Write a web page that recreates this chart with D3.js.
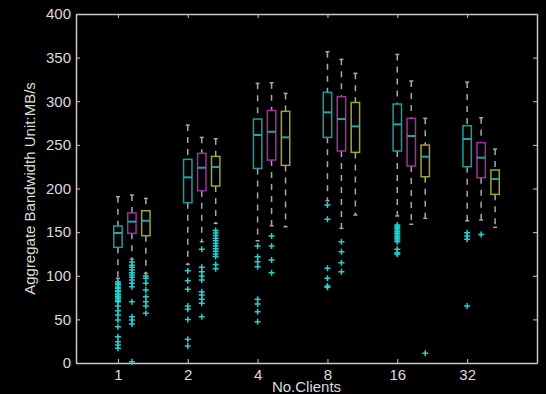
<!DOCTYPE html>
<html>
<head>
<meta charset="utf-8">
<script src="https://cdn.jsdelivr.net/npm/d3@7"></script>
<style>
  html, body { margin: 0; padding: 0; background: #000; }
  svg { display: block; }
  .axis text { fill: #dcdcdc; font-family: "Liberation Sans", Arial, sans-serif; font-size: 15px; }
  .axis path, .axis line { stroke: #c8c8c8; }
</style>
</head>
<body>
<div id="chart"></div>
<script>
// x categories (number of clients) and y ticks
const categories = ["1", "2", "4", "8", "16", "32"];
const yTicks = [0, 50, 100, 150, 200, 250, 300, 350, 400];

// three runs per category: cyan, magenta, yellow
const seriesColors = ["#1e9c9c", "#a42fa4", "#a3a32e"];
const seriesOffsets = [0, 0.2, 0.4];

// box stats, one row per series, one value per category
const whiskerLow = [
  [97, 113, 140, 186, 168.5, 163],
  [119, 139, 157.3, 154.3, 159, 163.9],
  [102.8, 160, 156.2, 169.6, 165.8, 155.5]
];
const q1 = [
  [132.6, 183.7, 223, 258.6, 243, 225],
  [148.6, 197.5, 232.6, 243, 225.8, 212.4],
  [145.9, 202.8, 226.5, 241.4, 213.5, 193.3]
];
const median = [
  [149, 212.8, 261.3, 287.3, 273.5, 256.7],
  [162, 223.8, 265, 279.6, 260.2, 235.3],
  [163, 224.6, 258.6, 271.2, 236.4, 210.8]
];
const q3 = [
  [157, 233.4, 279.6, 310.2, 296.8, 272],
  [172, 240.3, 289.4, 305.2, 280.4, 252.5],
  [174.5, 236.8, 288.4, 298.6, 249.8, 221.2]
];
const whiskerHigh = [
  [190.6, 272.7, 320.5, 356.8, 353.7, 322],
  [192.5, 258.6, 321.2, 348, 323.2, 281.1],
  [188.7, 257, 309, 332, 280.4, 245.2]
];

// outliers per series, per category
const outliers = [
  [
    [93, 91, 89.6, 87, 85.6, 83, 81.7, 79, 77.9, 76, 74.1, 72, 70.2, 65.3, 59.9, 55, 49.3, 41.6, 30.1, 24.4, 20.6, 16.8],
    [105.8, 94.3, 84.4, 65.3, 61.5, 50, 27.1, 19.5],
    [134, 121.8, 116.1, 110.4, 73, 67.6, 58.8, 47.3],
    [181, 164.7, 108.5, 97, 88.2, 86.7],
    [158.1, 156.2, 154.3, 152.4, 150.5, 148.6, 146.7, 144.7, 142.9, 141, 139, 130.3, 126.4, 124.5],
    [149.3, 145.5, 141.7, 65.3]
  ],
  [
    [115.7, 112, 109.6, 106.6, 103.5, 100.8, 98.2, 95.1, 91.3, 87.4, 70.2, 53, 49.3, 44.7, 1.5],
    [130.3, 109.6, 104.6, 99.7, 95.1, 81.7, 77.9, 73, 68.4, 53],
    [145.5, 134, 118, 103.5],
    [139, 127.5, 114.9, 104.6],
    [],
    [147.4]
  ],
  [
    [99.7, 97, 91.3, 83.7, 76, 70.2, 65.3, 57],
    [152, 149, 146, 143, 140, 137, 134, 131, 128, 125, 122, 113, 108],
    [],
    [],
    [11.1],
    []
  ]
];

const width = 546, height = 394;
const plot = { left: 76, right: 537, top: 14, bottom: 363 };
const boxWidth = 0.12;

const svg = d3.select("#chart").append("svg")
  .attr("width", width)
  .attr("height", height);

svg.append("rect")
  .attr("width", width).attr("height", height)
  .attr("fill", "#000");

const x = d3.scaleLinear().domain([0.4, 7]).range([plot.left, plot.right]);
const y = d3.scaleLinear().domain([0, 400]).range([plot.bottom, plot.top]);
const tickPos = categories.map((d, i) => i + 1);

// frame with inward ticks on all sides
svg.append("g").attr("class", "axis")
  .attr("transform", `translate(0,${plot.bottom})`)
  .call(d3.axisBottom(x).tickValues(tickPos).tickFormat((d, i) => categories[i])
    .tickSizeInner(-4).tickSizeOuter(0).tickPadding(6));
svg.append("g").attr("class", "axis")
  .attr("transform", `translate(0,${plot.top})`)
  .call(d3.axisTop(x).tickValues(tickPos).tickFormat("").tickSizeInner(-4).tickSizeOuter(0));
svg.append("g").attr("class", "axis")
  .attr("transform", `translate(${plot.left},0)`)
  .call(d3.axisLeft(y).tickValues(yTicks).tickSizeInner(-4).tickSizeOuter(0).tickPadding(5));
svg.append("g").attr("class", "axis")
  .attr("transform", `translate(${plot.right},0)`)
  .call(d3.axisRight(y).tickValues(yTicks).tickFormat("").tickSizeInner(-4).tickSizeOuter(0));

svg.selectAll(".axis path").attr("stroke-width", 1.5);

// draw boxes
seriesColors.forEach((color, s) => {
  categories.forEach((c, i) => {
    const cx = x(i + 1 + seriesOffsets[s]);
    const half = (x(boxWidth) - x(0)) / 2;
    const g = svg.append("g");

    // whiskers
    [[whiskerHigh[s][i], q3[s][i]], [q1[s][i], whiskerLow[s][i]]].forEach(([a, b]) => {
      g.append("line")
        .attr("x1", cx).attr("x2", cx)
        .attr("y1", y(a)).attr("y2", y(b))
        .attr("stroke", "#a8a8a8").attr("stroke-width", 1.5)
        .attr("stroke-dasharray", "6,6");
    });
    [whiskerHigh[s][i], whiskerLow[s][i]].forEach(v => {
      g.append("line")
        .attr("x1", cx - 2).attr("x2", cx + 2)
        .attr("y1", y(v)).attr("y2", y(v))
        .attr("stroke", "#a8a8a8").attr("stroke-width", 1.5);
    });

    g.append("rect")
      .attr("x", cx - half).attr("width", 2 * half)
      .attr("y", y(q3[s][i])).attr("height", y(q1[s][i]) - y(q3[s][i]))
      .attr("fill", "none").attr("stroke", color).attr("stroke-width", 1.5);

    g.append("line")
      .attr("x1", cx - half).attr("x2", cx + half)
      .attr("y1", y(median[s][i])).attr("y2", y(median[s][i]))
      .attr("stroke", "#1fa6a6").attr("stroke-width", 2);

    // outlier crosses
    outliers[s][i].forEach(v => {
      g.append("path")
        .attr("d", `M${cx - 3},${y(v)}h6M${cx},${y(v) - 3}v6`)
        .attr("stroke", "#22d2d2").attr("stroke-width", 1.5);
    });
  });
});

// axis labels
svg.append("text")
  .attr("x", (plot.left + plot.right) / 2)
  .attr("y", 392)
  .attr("text-anchor", "middle")
  .style("font-family", "Liberation Sans, Arial, sans-serif")
  .style("font-size", "15px")
  .style("fill", "#dcdcdc")
  .text("No.Clients");

svg.append("text")
  .attr("transform", `translate(35,${(plot.top + plot.bottom) / 2}) rotate(-90)`)
  .attr("text-anchor", "middle")
  .style("font-family", "Liberation Sans, Arial, sans-serif")
  .style("font-size", "15px")
  .style("fill", "#dcdcdc")
  .text("Aggregate Bandwidth  Unit:MB/s");
</script>
</body>
</html>
